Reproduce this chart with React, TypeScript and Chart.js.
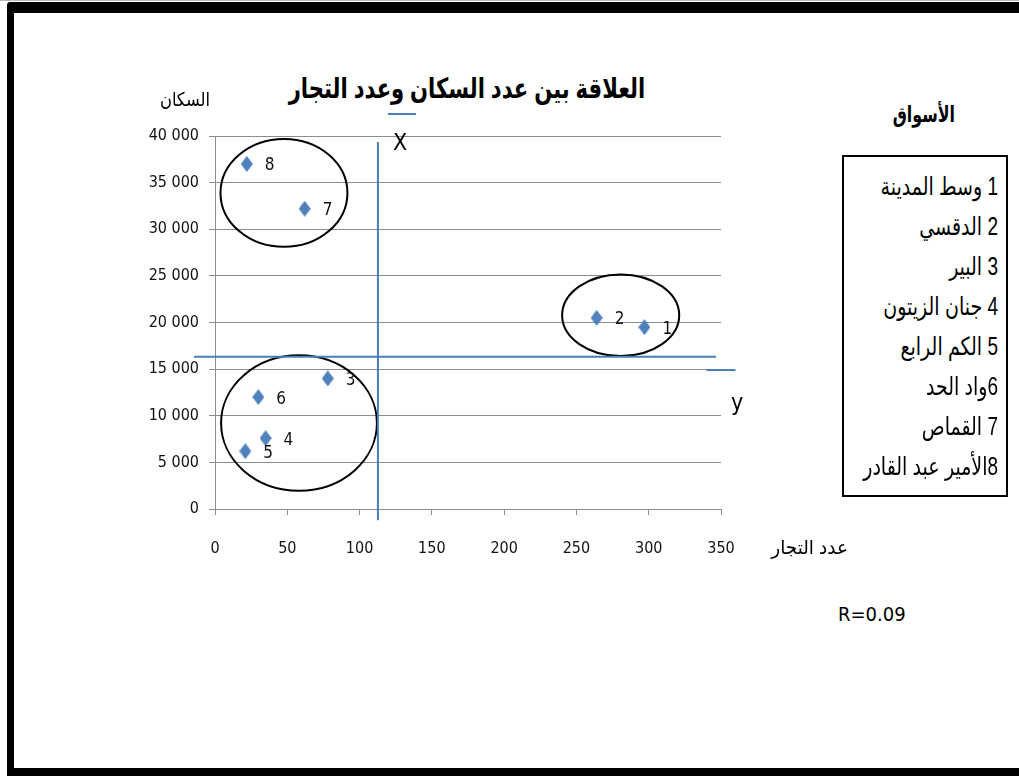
import React, { useEffect, useRef } from 'react';
import Chart from 'chart.js/auto';

// ---- data ----
const marketIds = ['1', '2', '3', '4', '5', '6', '7', '8'];
const traders = [297, 264, 78, 35, 21, 30, 62, 22];
const population = [19500, 20500, 14000, 7600, 6200, 12000, 32200, 37000];
const legendLabels = [
  '1 وسط المدينة',
  '2 الدقسي',
  '3 البير',
  '4 جنان الزيتون',
  '5 الكم الرابع',
  '6واد الحد',
  '7 القماص',
  '8الأمير عبد القادر',
];
// cluster ellipses (data units)
const clusterCx = [47.7, 58.1, 280.6];
const clusterCy = [33900, 9220, 20780];
const clusterRx = [43.9, 53.9, 40.5];
const clusterRy = [5790, 7260, 4380];
// blue hand-drawn guide lines (data units): x1, y1, x2, y2
const guideX1 = [112.7, -14.5, 340, 119.6];
const guideY1 = [39350, 16330, 14900, 42360];
const guideX2 = [112.7, 346.5, 360, 139];
const guideY2 = [-1200, 16330, 14900, 42360];

const titleText = 'العلاقة بين عدد السكان وعدد التجار';
const yAxisTitle = 'السكان';
const xAxisTitle = 'عدد التجار';
const legendTitle = 'الأسواق';
const rText = 'R=0.09';

const NARROW = '"Liberation Sans Narrow", "DejaVu Sans Condensed", sans-serif';
const AR_FONT = '"Liberation Sans", "DejaVu Sans", Arial, sans-serif';

function makeDiamond(): HTMLCanvasElement {
  const c = document.createElement('canvas');
  c.width = 12;
  c.height = 16;
  const g = c.getContext('2d')!;
  g.fillStyle = '#4F81BD';
  g.beginPath();
  g.moveTo(6, 0);
  g.lineTo(12, 8);
  g.lineTo(6, 16);
  g.lineTo(0, 8);
  g.closePath();
  g.fill();
  return c;
}

export default function App() {
  const ref = useRef<HTMLCanvasElement | null>(null);

  useEffect(() => {
    if (!ref.current) return;
    const diamond = makeDiamond();

    const ellipsePlugin = {
      id: 'clusters',
      afterDatasetsDraw(chart: any) {
        const { ctx, scales } = chart;
        const xs = scales.x;
        const ys = scales.y;
        ctx.save();
        ctx.strokeStyle = '#000';
        ctx.lineWidth = 2;
        for (let i = 0; i < clusterCx.length; i++) {
          const cx = xs.getPixelForValue(clusterCx[i]);
          const cy = ys.getPixelForValue(clusterCy[i]);
          const rx = Math.abs(xs.getPixelForValue(clusterCx[i] + clusterRx[i]) - cx);
          const ry = Math.abs(ys.getPixelForValue(clusterCy[i] + clusterRy[i]) - cy);
          ctx.beginPath();
          ctx.ellipse(cx, cy, rx, ry, 0, 0, Math.PI * 2);
          ctx.stroke();
        }
        ctx.strokeStyle = '#4A7EBB';
        ctx.lineWidth = 2;
        for (let i = 0; i < guideX1.length; i++) {
          ctx.beginPath();
          ctx.moveTo(xs.getPixelForValue(guideX1[i]), ys.getPixelForValue(guideY1[i]));
          ctx.lineTo(xs.getPixelForValue(guideX2[i]), ys.getPixelForValue(guideY2[i]));
          ctx.stroke();
        }
        // point number labels
        const meta = chart.getDatasetMeta(0);
        ctx.fillStyle = '#111';
        ctx.font = `17px ${NARROW}`;
        ctx.textAlign = 'left';
        ctx.textBaseline = 'middle';
        meta.data.forEach((pt: any, i: number) => {
          ctx.fillText(marketIds[i], pt.x + 18, pt.y + 2);
        });
        ctx.restore();
      },
    };

    const chart = new Chart(ref.current, {
      type: 'scatter',
      data: {
        datasets: [
          {
            label: 'markets',
            data: traders.map((t, i) => ({ x: t, y: population[i] })),
            pointStyle: diamond as any,
            pointRadius: 7,
            pointHoverRadius: 7,
          },
        ],
      },
      options: {
        animation: false,
        responsive: false,
        maintainAspectRatio: false,
        layout: { padding: { top: 25, right: 40, left: 0, bottom: 0 } },
        plugins: {
          legend: { display: false },
          tooltip: { enabled: false },
          title: { display: false },
        },
        scales: {
          x: {
            type: 'linear',
            min: 0,
            max: 350,
            ticks: {
              stepSize: 50,
              padding: 24,
              color: '#111',
              font: { family: NARROW, size: 16 },
            },
            grid: {
              drawOnChartArea: false,
              drawTicks: true,
              tickLength: 6,
              color: '#8c8c8c',
            },
            border: { display: true, color: '#8c8c8c' },
            afterFit(scale: any) {
              scale.height = 72;
            },
          },
          y: {
            type: 'linear',
            min: 0,
            max: 40000,
            ticks: {
              stepSize: 5000,
              padding: 10,
              color: '#111',
              font: { family: NARROW, size: 16 },
              callback: (v: any) => {
                const n = Number(v);
                if (n === 0) return '0';
                const s = String(n);
                return s.slice(0, s.length - 3) + ' ' + s.slice(s.length - 3);
              },
            },
            grid: {
              color: '#8c8c8c',
              lineWidth: 1,
              tickLength: 6,
            },
            border: { display: true, color: '#8c8c8c' },
            afterFit(scale: any) {
              scale.width = 115;
            },
          },
        },
      },
      plugins: [ellipsePlugin],
    });
    return () => chart.destroy();
  }, []);

  const abs = (s: React.CSSProperties): React.CSSProperties => ({ position: 'absolute', margin: 0, whiteSpace: 'nowrap', ...s });

  return (
    <div
      style={{
        position: 'absolute',
        left: 0,
        top: 0,
        width: 1019,
        height: 776,
        overflow: 'hidden',
        background: '#fff',
        fontFamily: AR_FONT,
        color: '#000',
      }}
    >
      <div style={abs({ left: 0, top: 0, width: 1019, height: 1, background: '#bbb' })} />
      <div
        style={abs({
          left: 7,
          top: 2,
          width: 1100,
          height: 774,
          boxSizing: 'border-box',
          borderTop: '11px solid #000',
          borderLeft: '7px solid #000',
          borderBottom: '8px solid #000',
          borderTopLeftRadius: 4,
        })}
      />
      <canvas
        ref={ref}
        width={661}
        height={470}
        style={{ position: 'absolute', left: 100, top: 111, width: 661, height: 470 }}
      />
      <div
        dir="rtl"
        style={abs({
          left: 167,
          top: 72,
          width: 600,
          textAlign: 'center',
          fontSize: 28,
          lineHeight: '34px',
          fontWeight: 'bold',
          transform: 'scaleX(0.754)',
          transformOrigin: '300px 50%',
        })}
      >
        {titleText}
      </div>
      <div
        dir="rtl"
        style={abs({ left: 60, top: 88, width: 150, textAlign: 'right', fontSize: 19, lineHeight: '24px', transform: 'scaleX(0.86)', transformOrigin: '100% 50%' })}
      >
        {yAxisTitle}
      </div>
      <div style={abs({ left: 388, top: 127, width: 24, textAlign: 'center', fontSize: 23, lineHeight: '30px', fontFamily: NARROW })}>X</div>
      <div style={abs({ left: 725, top: 387, width: 24, textAlign: 'center', fontSize: 23, lineHeight: '30px', fontFamily: NARROW })}>y</div>
      <div
        dir="rtl"
        style={abs({ left: 698, top: 536, width: 150, textAlign: 'right', fontSize: 19, lineHeight: '24px', transform: 'scaleX(0.97)', transformOrigin: '100% 50%' })}
      >
        {xAxisTitle}
      </div>
      <div style={abs({ left: 838, top: 601, fontSize: 20, lineHeight: '26px', fontFamily: NARROW })}>{rText}</div>
      <div
        dir="rtl"
        style={abs({
          left: 805,
          top: 101,
          width: 150,
          textAlign: 'right',
          fontSize: 22,
          lineHeight: '28px',
          fontWeight: 'bold',
          transform: 'scaleX(0.72)',
          transformOrigin: '100% 50%',
        })}
      >
        {legendTitle}
      </div>
      <div
        style={abs({
          left: 842,
          top: 155,
          width: 166,
          height: 342,
          boxSizing: 'border-box',
          border: '2px solid #000',
        })}
      />
      {legendLabels.map((l, i) => (
        <div
          key={i}
          dir="rtl"
          style={abs({
            left: 748,
            top: 166 + i * 40,
            width: 250,
            textAlign: 'right',
            fontSize: 25,
            lineHeight: '40px',
            transform: 'scaleX(0.76)',
            transformOrigin: '100% 50%',
          })}
        >
          {l}
        </div>
      ))}
    </div>
  );
}
